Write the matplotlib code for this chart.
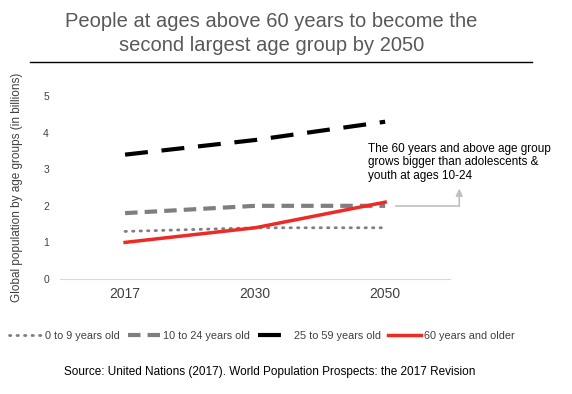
import matplotlib
matplotlib.use("Agg")
import matplotlib.pyplot as plt
import numpy as np

plt.rcParams['font.family'] = ['Liberation Sans', 'DejaVu Sans']

years = ['2017', '2030', '2050']
age_0_9 = [1.3, 1.4, 1.4]
age_10_24 = [1.8, 2.0, 2.0]
age_25_59 = [3.4, 3.8, 4.3]
age_60_plus = [1.0, 1.4, 2.1]

x = np.arange(len(years))

fig = plt.figure(figsize=(5.72, 3.94), dpi=100)
ax = fig.add_axes([0.105, 0.292, 0.682, 0.464])

ax.plot(x, age_0_9, color='#7f7f7f', lw=2, linestyle=(0, (0.5, 2.2)),
        dash_capstyle='round', label='0 to 9 years old')
ax.plot(x, age_10_24, color='#7f7f7f', lw=3, linestyle=(0, (3, 1.7)),
        label='10 to 24 years old')
ax.plot(x, age_25_59, color='black', lw=3, linestyle=(0, (5.5, 3.3)),
        label='25 to 59 years old')
ax.plot(x, age_60_plus, color='#ee2a24', lw=2.5, label='60 years and older')

ax.set_xlim(-0.5, 2.5)
ax.set_ylim(0, 5)
ax.set_xticks(x)
ax.set_xticklabels(years, fontsize=10, color='#404040')
ax.set_yticks(range(6))
ax.tick_params(axis='y', labelsize=7.5, labelcolor='#404040', length=0, pad=8)
ax.tick_params(axis='x', length=0, pad=6)
for s in ['top', 'right', 'left']:
    ax.spines[s].set_visible(False)
ax.spines['bottom'].set_color('#d9d9d9')
ax.set_ylabel('Global population by age groups (in billions)', fontsize=8.5,
              color='#404040')
ax.yaxis.set_label_coords(-0.095, 0.5)

# annotation
ax.text(1.87, 3.72, 'The 60 years and above age group\ngrows bigger than adolescents &\nyouth at ages 10-24',
        fontsize=8.5, va='top', ha='left', color='black', linespacing=1.15,
        clip_on=False)
ax.plot([2.08, 2.57], [2.0, 2.0], color='#bfbfbf', lw=1.2, clip_on=False)
ax.annotate('', xy=(2.57, 2.47), xytext=(2.57, 1.99),
            arrowprops=dict(arrowstyle='-|>', color='#bfbfbf', lw=1.2,
                            mutation_scale=10, shrinkA=0, shrinkB=0),
            annotation_clip=False)

fig.text(0.474, 0.915, 'People at ages above 60 years to become the\nsecond largest age group by 2050',
         ha='center', va='center', fontsize=14.5, color='#595959', linespacing=1.35)
fig.add_artist(plt.Line2D([0.052, 0.93], [0.843, 0.843], color='black', lw=1,
                          transform=fig.transFigure))

fig.legend(loc='center', bbox_to_anchor=(0.458, 0.147), ncol=4, frameon=False,
           fontsize=7.8, handlelength=3.0, handletextpad=0.3, columnspacing=0.7,
           labelcolor='#404040')

fig.text(0.472, 0.055, 'Source: United Nations (2017). World Population Prospects: the 2017 Revision',
         ha='center', va='center', fontsize=8.5, color='black')

fig.savefig('out.png', dpi=100)
